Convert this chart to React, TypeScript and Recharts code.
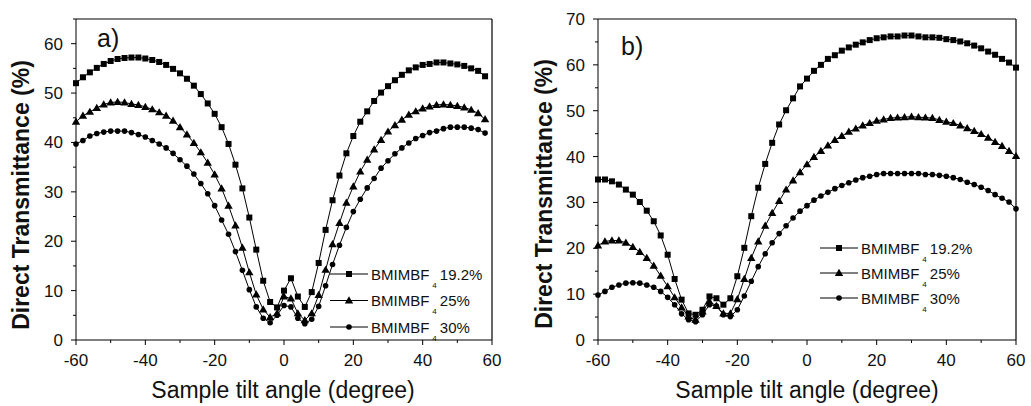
import { Line, LineChart, XAxis, YAxis } from "recharts";

const FONT = "'Liberation Sans', Arial, sans-serif";

// tilt angles (degree)
const ANGLES_A = [
  -60, -58, -56, -54, -52, -50, -48, -46, -44, -42, -40, -38, -36, -34, -32, -30, -28, -26, -24, -22,
  -20, -18, -16, -14, -12, -10, -8, -6, -4, -2, 0, 2, 4, 6, 8, 10, 12, 14, 16, 18,
  20, 22, 24, 26, 28, 30, 32, 34, 36, 38, 40, 42, 44, 46, 48, 50, 52, 54, 56, 58,
];
const ANGLES_B = [
  -60, -58, -56, -54, -52, -50, -48, -46, -44, -42, -40, -38, -36, -34, -32, -30, -28, -26, -24, -22,
  -20, -18, -16, -14, -12, -10, -8, -6, -4, -2, 0, 2, 4, 6, 8, 10, 12, 14, 16, 18,
  20, 22, 24, 26, 28, 30, 32, 34, 36, 38, 40, 42, 44, 46, 48, 50, 52, 54, 56, 58, 60,
];

// panel a) direct transmittance (%)
const A_192 = [
  52.0, 53.2, 54.2, 55.1, 55.9, 56.5, 56.9, 57.1, 57.2, 57.2, 57.0, 56.7, 56.3, 55.7, 54.9, 54.0, 52.9, 51.5, 49.8, 47.9,
  45.8, 43.1, 39.7, 35.5, 30.7, 24.8, 18.3, 12.0, 7.7, 6.6, 10.0, 12.5, 8.8, 6.7, 9.7, 15.6, 22.3, 28.3, 33.3, 37.8,
  41.3, 44.2, 46.3, 48.4, 50.1, 51.4, 52.6, 53.7, 54.6, 55.2, 55.7, 55.9, 56.2, 56.2, 56.0, 55.8, 55.5, 55.0, 54.5, 53.4,
];
const A_25 = [
  44.2, 45.4, 46.2, 47.0, 47.7, 48.1, 48.2, 48.1, 47.8, 47.6, 47.2, 46.7, 46.1, 45.4, 44.4, 43.1, 41.6, 39.9, 38.0, 35.9,
  33.5, 30.7, 27.2, 23.2, 18.7, 13.7, 9.2, 6.2, 4.6, 5.4, 8.8, 8.4, 5.4, 4.0, 5.4, 9.1, 14.2, 19.4, 23.7, 27.8,
  31.1, 34.1, 36.5, 38.6, 40.5, 42.2, 43.5, 44.6, 45.6, 46.3, 46.9, 47.3, 47.6, 47.7, 47.6, 47.4, 47.1, 46.6, 45.9, 44.7,
];
const A_30 = [
  39.7, 40.4, 41.3, 41.8, 42.1, 42.3, 42.3, 42.3, 42.0, 41.6, 41.1, 40.4, 39.7, 38.9, 37.8, 36.5, 35.2, 33.6, 31.7, 29.6,
  27.2, 24.3, 21.4, 17.9, 14.1, 10.2, 6.7, 4.4, 3.5, 5.0, 7.0, 6.7, 4.4, 3.3, 4.2, 6.8, 11.0, 15.3, 19.2, 22.8,
  26.0, 28.5, 30.8, 32.7, 34.8, 36.3, 37.7, 38.9, 39.9, 40.8, 41.4, 42.0, 42.3, 42.8, 43.1, 43.1, 43.1, 42.9, 42.6, 41.9,
];

// panel b) direct transmittance (%)
const B_192 = [
  35.0, 35.0, 34.6, 33.9, 32.8, 31.7, 30.1, 28.2, 25.9, 22.8, 18.6, 13.3, 8.8, 5.8, 5.5, 6.6, 9.5, 9.1, 7.7, 9.1,
  13.9, 20.1, 27.0, 33.2, 38.4, 43.0, 47.0, 50.1, 52.7, 55.3, 57.0, 58.7, 60.0, 61.3, 62.1, 63.1, 63.8, 64.4, 64.9, 65.4,
  65.8, 66.0, 66.2, 66.2, 66.4, 66.4, 66.2, 66.0, 66.0, 65.9, 65.6, 65.4, 65.1, 64.7, 64.2, 63.6, 62.9, 62.2, 61.3, 60.5, 59.4,
];
const B_25 = [
  20.6, 21.5, 21.7, 21.7, 21.2, 20.3, 19.2, 17.9, 16.2, 14.0, 11.7, 9.3, 7.1, 5.1, 4.4, 6.2, 8.4, 7.4, 5.8, 5.8,
  8.9, 13.3, 17.9, 21.5, 24.9, 27.7, 30.3, 32.8, 34.8, 36.6, 38.3, 39.9, 41.2, 42.4, 43.6, 44.5, 45.4, 46.1, 46.8, 47.3,
  47.8, 48.1, 48.4, 48.5, 48.6, 48.7, 48.6, 48.5, 48.4, 48.0, 47.6, 47.3, 46.8, 46.2, 45.6, 44.9, 44.1, 43.2, 42.3, 41.2, 40.1,
];
const B_30 = [
  9.8, 10.6, 11.5, 12.0, 12.4, 12.5, 12.4, 12.0, 11.5, 10.6, 9.3, 7.7, 5.7, 4.4, 4.0, 5.5, 7.7, 7.4, 5.5, 5.1,
  6.6, 9.6, 12.8, 16.0, 18.8, 21.2, 23.2, 24.9, 26.6, 28.1, 29.3, 30.5, 31.4, 32.2, 33.0, 33.7, 34.3, 34.9, 35.4, 35.7,
  36.1, 36.3, 36.3, 36.3, 36.3, 36.3, 36.3, 36.1, 36.1, 35.9, 35.7, 35.4, 35.0, 34.4, 33.9, 33.3, 32.6, 31.7, 30.9, 30.1, 28.6,
];

const X_TICKS = [-60, -50, -40, -30, -20, -10, 0, 10, 20, 30, 40, 50, 60];
const Y_TICKS_A = [0, 5, 10, 15, 20, 25, 30, 35, 40, 45, 50, 55, 60, 65];
const Y_TICKS_B = [0, 5, 10, 15, 20, 25, 30, 35, 40, 45, 50, 55, 60, 65, 70];

const LEGEND = ["19.2%", "25%", "30%"];

const dataA = ANGLES_A.map((angle, i) => ({ angle, s192: A_192[i], s25: A_25[i], s30: A_30[i] }));
const dataB = ANGLES_B.map((angle, i) => ({ angle, s192: B_192[i], s25: B_25[i], s30: B_30[i] }));

function squareMark(cx: number, cy: number, key?: string) {
  return <rect key={key} x={cx - 3} y={cy - 3} width={6} height={6} fill="#000" />;
}
function triangleMark(cx: number, cy: number, key?: string) {
  return <path key={key} d={`M${cx},${cy - 4.2}L${cx + 4.2},${cy + 3}L${cx - 4.2},${cy + 3}Z`} fill="#000" />;
}
function circleMark(cx: number, cy: number, key?: string) {
  return <circle key={key} cx={cx} cy={cy} r={2.8} fill="#000" />;
}

const squareDot = (p: any) => squareMark(p.cx, p.cy, `sq-${p.index}`);
const triangleDot = (p: any) => triangleMark(p.cx, p.cy, `tr-${p.index}`);
const circleDot = (p: any) => circleMark(p.cx, p.cy, `ci-${p.index}`);

function XTick({ x, y, payload }: any) {
  const v = payload.value;
  const major = v % 20 === 0;
  return (
    <g>
      <line x1={x} x2={x} y1={y} y2={y + (major ? 5 : 3)} stroke="#000" />
      {major && (
        <text x={x} y={y + 26} textAnchor="middle" fontSize={17} fontFamily={FONT} fill="#111">
          {v}
        </text>
      )}
    </g>
  );
}

function YTick({ x, y, payload }: any) {
  const v = payload.value;
  const major = v % 10 === 0;
  return (
    <g>
      <line x1={x} x2={x - (major ? 5 : 3)} y1={y} y2={y} stroke="#000" />
      {major && (
        <text x={x - 13} y={y + 6} textAnchor="end" fontSize={17} fontFamily={FONT} fill="#111">
          {v}
        </text>
      )}
    </g>
  );
}

function Panel({ data, yMax, yTicks, margin }: { data: any[]; yMax: number; yTicks: number[]; margin: any }) {
  return (
    <LineChart width={margin.w} height={406} data={data} margin={margin.m}>
      <XAxis
        dataKey="angle"
        type="number"
        domain={[-60, 60]}
        ticks={X_TICKS}
        interval={0}
        height={40}
        tickSize={0}
        tickMargin={0}
        tickLine={false}
        tick={<XTick />}
        axisLine={{ stroke: "#000" }}
      />
      <YAxis
        type="number"
        domain={[0, yMax]}
        ticks={yTicks}
        interval={0}
        width={60}
        tickSize={0}
        tickMargin={0}
        tickLine={false}
        tick={<YTick />}
        axisLine={{ stroke: "#000" }}
      />
      <Line dataKey="s192" stroke="#000" strokeWidth={1} dot={squareDot} activeDot={false} isAnimationActive={false} />
      <Line dataKey="s25" stroke="#000" strokeWidth={1} dot={triangleDot} activeDot={false} isAnimationActive={false} />
      <Line dataKey="s30" stroke="#000" strokeWidth={1} dot={circleDot} activeDot={false} isAnimationActive={false} />
    </LineChart>
  );
}

function LegendBlock({ x, rows }: { x: number; rows: number[] }) {
  const marks = [squareMark, triangleMark, circleMark];
  return (
    <g>
      {rows.map((cy, i) => (
        <g key={LEGEND[i]}>
          <line x1={x} x2={x + 38} y1={cy} y2={cy} stroke="#000" />
          {marks[i](x + 19, cy)}
          <text x={x + 41} y={cy + 5.5} fontSize={15} fontFamily={FONT} fill="#111">
            BMIMBF
            <tspan dx={3} dy={8} fontSize={8}>4</tspan>
            <tspan dx={3} dy={-8} fontSize={15}>{LEGEND[i]}</tspan>
          </text>
        </g>
      ))}
    </g>
  );
}

export default function App() {
  return (
    <div style={{ position: "absolute", left: 0, top: 0, width: 1031, height: 406, background: "#fff" }}>
      <div style={{ position: "absolute", left: 0, top: 0 }}>
        <Panel data={dataA} yMax={65} yTicks={Y_TICKS_A} margin={{ w: 515, m: { top: 19, right: 23, bottom: 26, left: 16 } }} />
      </div>
      <div style={{ position: "absolute", left: 515, top: 0 }}>
        <Panel data={dataB} yMax={70} yTicks={Y_TICKS_B} margin={{ w: 516, m: { top: 19, right: 15, bottom: 26, left: 23 } }} />
      </div>
      <svg width={1031} height={406} style={{ position: "absolute", left: 0, top: 0, pointerEvents: "none" }}>
        {/* top and right edges of both plot boxes */}
        <line x1={76} x2={492} y1={19} y2={19} stroke="#000" strokeWidth={1.2} />
        <line x1={492} x2={492} y1={19} y2={340} stroke="#000" strokeWidth={1.2} />
        <line x1={598} x2={1016} y1={19} y2={19} stroke="#000" strokeWidth={1.2} />
        <line x1={1016} x2={1016} y1={19} y2={340} stroke="#000" strokeWidth={1.2} />
        <text transform="translate(29,195) rotate(-90)" textAnchor="middle" fontSize={23} fontWeight="bold" fontFamily={FONT} fill="#111">
          Direct Transmittance (%)
        </text>
        <text transform="translate(552,194) rotate(-90)" textAnchor="middle" fontSize={23} fontWeight="bold" fontFamily={FONT} fill="#111">
          Direct Transmittance (%)
        </text>
        <text x={283} y={398} textAnchor="middle" fontSize={23} fontFamily={FONT} fill="#111">
          Sample tilt angle (degree)
        </text>
        <text x={807} y={398} textAnchor="middle" fontSize={23} fontFamily={FONT} fill="#111">
          Sample tilt angle (degree)
        </text>
        <text x={97} y={47} fontSize={25} fontFamily={FONT} fill="#111">a)</text>
        <text x={621} y={55} fontSize={25} fontFamily={FONT} fill="#111">b)</text>
        <LegendBlock x={330} rows={[274, 300.5, 327]} />
        <LegendBlock x={820} rows={[248, 273, 298]} />
      </svg>
    </div>
  );
}
